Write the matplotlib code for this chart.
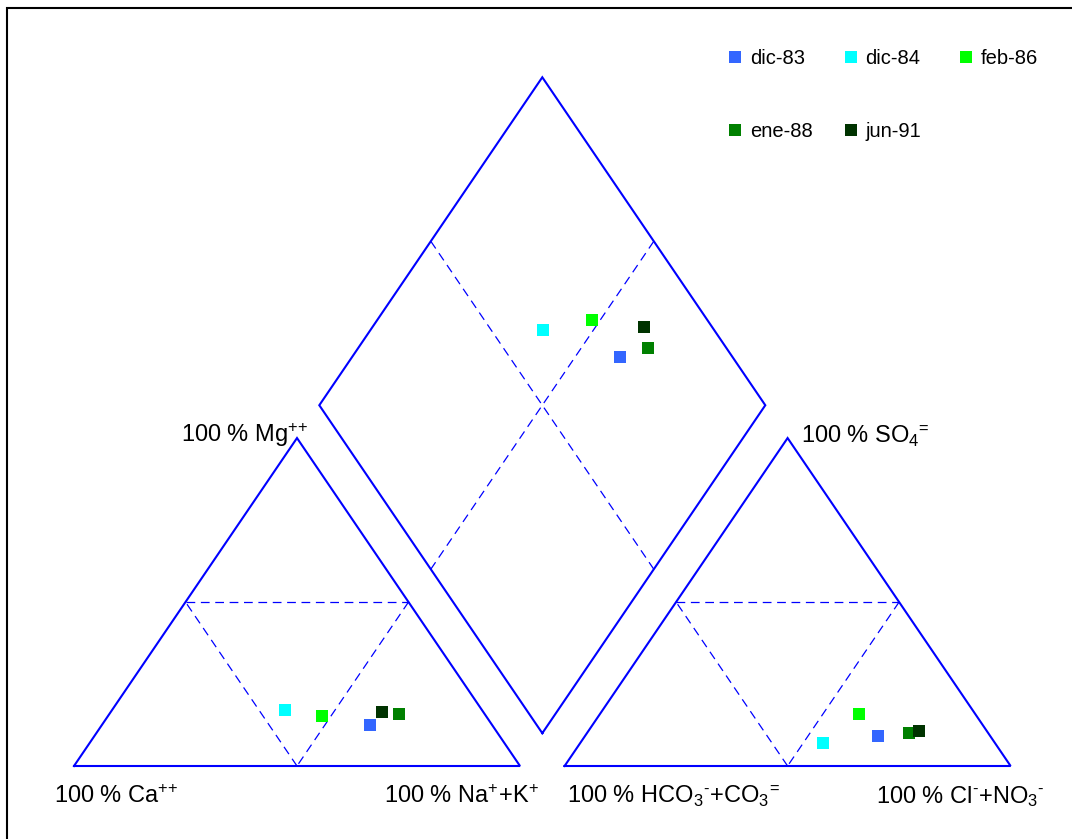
import matplotlib
matplotlib.use('Agg')
import matplotlib.pyplot as plt
from matplotlib.patches import Rectangle
import numpy as np

plt.rcParams['font.family'] = ['Liberation Sans', 'DejaVu Sans']
plt.rcParams['mathtext.fontset'] = 'custom'
plt.rcParams['mathtext.rm'] = 'Liberation Sans'
plt.rcParams['mathtext.it'] = 'Liberation Sans:italic'
plt.rcParams['mathtext.bf'] = 'Liberation Sans:bold'

# muestras
labels = ['dic-83', 'dic-84', 'feb-86', 'ene-88', 'jun-91']
colors = ['#3366ff', '#00ffff', '#00ff00', '#008000', '#003300']

# cationes (% meq/l)
ca = [27.3, 44.2, 36.7, 19.2, 22.7]
mg = [12.5, 17.1, 15.2, 15.9, 16.6]
nak = [60.2, 38.7, 48.1, 64.9, 60.7]

# aniones (% meq/l)
hco3 = [25.2, 38.5, 26.0, 17.7, 15.3]
so4 = [9.0, 7.1, 15.9, 10.0, 10.7]
cl = [65.8, 54.4, 58.1, 72.3, 74.0]

W, H = 1072, 839
s3 = np.sqrt(3) / 2
gap = 10


def cat_xy(m, n):
    m, n = np.asarray(m, float), np.asarray(n, float)
    return n + m / 2, m * s3


def an_xy(s, c):
    s, c = np.asarray(s, float), np.asarray(c, float)
    return 100 + gap + c + s / 2, s * s3


def dia_xy(n, h):
    n, h = np.asarray(n, float), np.asarray(h, float)
    t = 200 + gap - h - n
    return n + t / 2, t * s3


def px(x, y):
    # pixel -> figure fraction
    return x / W, 1 - y / H


fig = plt.figure(figsize=(W / 100, H / 100), dpi=100)
ax = fig.add_axes([0, 0, 1, 1])
ax.set_xlim(-74 / 4.46, (W - 74) / 4.46)
ax.set_ylim((766 - H) / 3.787, 766 / 3.787)
ax.axis('off')

blue = '#0000ff'
solid = dict(color=blue, lw=1.5, solid_joinstyle='miter')
dash = dict(color=blue, lw=0.9, linestyle=(0, (7, 4.5)))

# triangulos
x, y = cat_xy([0, 0, 100, 0], [0, 100, 0, 0])
ax.plot(x, y, **solid)
x, y = an_xy([0, 0, 100, 0], [0, 100, 0, 0])
ax.plot(x, y, **solid)
# rombo
x, y = dia_xy([100, 0, 0, 100, 100], [100, 100, 0, 0, 100])
ax.plot(x, y, **solid)

# lineas del 50 %
for f in (cat_xy, an_xy):
    for a, b in (([50, 50], [0, 50]), ([0, 50], [50, 0]), ([50, 0], [50, 50])):
        x, y = f(a, b)
        ax.plot(x, y, **dash)
x, y = dia_xy([50, 50], [0, 100])
ax.plot(x, y, **dash)
x, y = dia_xy([0, 100], [50, 50])
ax.plot(x, y, **dash)

# puntos
cx, cy = cat_xy(mg, nak)
axx, ayy = an_xy(so4, cl)
dx, dy = dia_xy(nak, hco3)
for i in range(len(labels)):
    for xx, yy in ((cx, cy), (axx, ayy), (dx, dy)):
        ax.plot(xx[i], yy[i], 's', color=colors[i], ms=8.5, mew=0, zorder=5)

# etiquetas
fs = 17
pp = r'$^{\text{++}}$'
p = r'$^{\text{+}}$'
m = r'$^{\text{-}}$'
eq = r'$^{\text{=}}$'
fig.text(*px(181, 442), '100 % Mg' + pp, fontsize=fs, va='baseline')
fig.text(*px(801, 443), '100 % SO$_4$' + eq, fontsize=fs, va='baseline')
fig.text(*px(54, 803), '100 % Ca' + pp, fontsize=fs, va='baseline')
fig.text(*px(384, 803), '100 % Na' + p + '+K' + p, fontsize=fs, va='baseline')
fig.text(*px(567, 803), '100 % HCO$_3$' + m + '+CO$_3$' + eq, fontsize=fs,
         va='baseline')
fig.text(*px(876, 803), '100 % Cl' + m + '+NO$_3$' + m, fontsize=fs,
         va='baseline')

# leyenda
for i, lab in enumerate(labels):
    col, row = i % 3, i // 3
    mx, my = 735 + 115.5 * col, 57 + 73 * row
    ax.plot(*px(mx, my), 's', color=colors[i], ms=8.5, mew=0,
            transform=fig.transFigure, clip_on=False)
    fig.text(*px(mx + 15, my + 7), lab, fontsize=14.5, va='baseline')

# marco
fig.patches.append(Rectangle(px(7, H + 10), 1.1, (H + 2) / H, fill=False,
                             ec='black', lw=1.5, transform=fig.transFigure))

fig.savefig('out.png', dpi=100)
